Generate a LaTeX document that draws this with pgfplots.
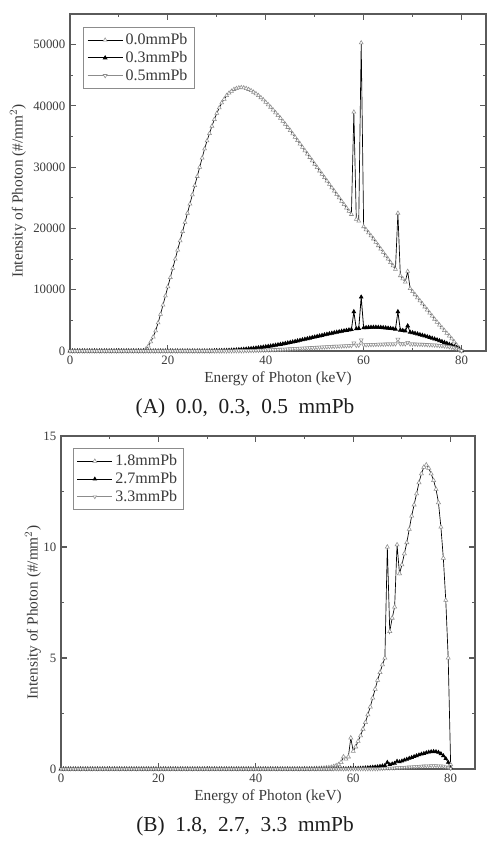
\documentclass[border=0pt]{standalone}
\usepackage{pgfplots}
\pgfplotsset{compat=1.18}
\usepackage{pgfplotstable}
\usepackage{fontspec}
\setmainfont{Liberation Serif}
\definecolor{framec}{HTML}{5A5A5A}
\definecolor{tickc}{HTML}{3A3A3A}
\definecolor{mk}{HTML}{8C8C8C}
\definecolor{capc}{HTML}{1E1E1E}

\pgfplotstableread{
E a00 a03 a05
0 0 0 0
0.5 0 0 0
1 0 0 0
1.5 0 0 0
2 0 0 0
2.5 0 0 0
3 0 0 0
3.5 0 0 0
4 0 0 0
4.5 0 0 0
5 0 0 0
5.5 0 0 0
6 0 0 0
6.5 0 0 0
7 0 0 0
7.5 0 0 0
8 0 0 0
8.5 0 0 0
9 0 0 0
9.5 0 0 0
10 0 0 0
10.5 0 0 0
11 0 0 0
11.5 0 0 0
12 0 0 0
12.5 0 0 0
13 0 0 0
13.5 0 0 0
14 0 0 0
14.5 0 0 0
15 50 0 0
15.5 300 0 0
16 800 0 0
16.5 1500 0 0
17 2300 0 0
17.5 3300 0 0
18 4600 0 0
18.5 6000 0 0
19 7500 0 0
19.5 9000 0 0
20 10500 0 0
20.5 12000 0 0
21 13500 0 0
21.5 15000 0 0
22 16500 0 0
22.5 18000 0 0
23 19500 0 0
23.5 21000 0 0
24 22500 0 0
24.5 24000 0 0
25 25500 0 0
25.5 27000 0 0
26 28500 0 0
26.5 30000 0 0
27 31500 0 0
27.5 33000 0 0
28 34300 10 0
28.5 35500 15 0
29 36700 20 0
29.5 37800 30 0
30 38800 40 0
30.5 39700 50 0
31 40500 60 0
31.5 41100 75 0
32 41700 90 0
32.5 42100 110 5
33 42400 130 10
33.5 42700 155 15
34 42850 180 20
34.5 42950 210 25
35 43000 240 30
35.5 42950 275 40
36 42850 310 50
36.5 42700 350 60
37 42500 390 70
37.5 42250 435 80
38 42000 480 90
38.5 41700 530 105
39 41350 580 120
39.5 41000 635 135
40 40600 690 150
40.5 40200 750 165
41 39800 810 185
41.5 39350 875 200
42 38900 940 220
42.5 38450 1010 240
43 38000 1080 260
43.5 37500 1155 280
44 37000 1230 300
44.5 36500 1310 320
45 36000 1390 345
45.5 35450 1475 370
46 34900 1560 390
46.5 34350 1650 415
47 33800 1740 435
47.5 33250 1830 460
48 32700 1920 480
48.5 32150 2010 500
49 31600 2100 525
49.5 31050 2190 550
50 30500 2280 570
50.5 29950 2370 590
51 29400 2460 615
51.5 28850 2550 640
52 28300 2640 660
52.5 27750 2725 680
53 27200 2810 705
53.5 26650 2895 730
54 26100 2980 750
54.5 25550 3060 770
55 25000 3140 790
55.5 24450 3215 810
56 23900 3290 830
56.5 23350 3360 850
57 22800 3430 870
57.5 22300 3500 890
58 39000 6400 1300
58.5 21500 3620 930
59 21200 3680 950
59.5 50300 8800 1800
60 20300 3780 990
60.5 19800 3810 1010
61 19300 3840 1030
61.5 18800 3860 1045
62 18300 3870 1060
62.5 17750 3870 1075
63 17200 3860 1090
63.5 16650 3840 1100
64 16100 3810 1110
64.5 15550 3770 1120
65 15000 3730 1130
65.5 14450 3680 1135
66 13900 3620 1140
66.5 13350 3570 1150
67 22500 6400 1900
67.5 12300 3400 1160
68 11800 3340 1160
68.5 11250 3270 1155
69 13000 4100 1400
69.5 10200 3060 1140
70 9700 2980 1130
70.5 9200 2880 1120
71 8700 2780 1105
71.5 8200 2670 1095
72 7700 2560 1080
72.5 7200 2450 1060
73 6700 2330 1040
73.5 6200 2210 1015
74 5700 2080 990
74.5 5200 1950 960
75 4700 1820 925
75.5 4250 1680 890
76 3800 1540 850
76.5 3350 1390 800
77 2900 1240 750
77.5 2450 1080 690
78 2000 920 620
78.5 1500 740 530
79 1000 560 420
79.5 500 330 250
80 0 50 30
}\dataA

\pgfplotstableread{
E b18 b27 b33
0 0 0 0
0.5 0 0 0
1 0 0 0
1.5 0 0 0
2 0 0 0
2.5 0 0 0
3 0 0 0
3.5 0 0 0
4 0 0 0
4.5 0 0 0
5 0 0 0
5.5 0 0 0
6 0 0 0
6.5 0 0 0
7 0 0 0
7.5 0 0 0
8 0 0 0
8.5 0 0 0
9 0 0 0
9.5 0 0 0
10 0 0 0
10.5 0 0 0
11 0 0 0
11.5 0 0 0
12 0 0 0
12.5 0 0 0
13 0 0 0
13.5 0 0 0
14 0 0 0
14.5 0 0 0
15 0 0 0
15.5 0 0 0
16 0 0 0
16.5 0 0 0
17 0 0 0
17.5 0 0 0
18 0 0 0
18.5 0 0 0
19 0 0 0
19.5 0 0 0
20 0 0 0
20.5 0 0 0
21 0 0 0
21.5 0 0 0
22 0 0 0
22.5 0 0 0
23 0 0 0
23.5 0 0 0
24 0 0 0
24.5 0 0 0
25 0 0 0
25.5 0 0 0
26 0 0 0
26.5 0 0 0
27 0 0 0
27.5 0 0 0
28 0 0 0
28.5 0 0 0
29 0 0 0
29.5 0 0 0
30 0 0 0
30.5 0 0 0
31 0 0 0
31.5 0 0 0
32 0 0 0
32.5 0 0 0
33 0 0 0
33.5 0 0 0
34 0 0 0
34.5 0 0 0
35 0 0 0
35.5 0 0 0
36 0 0 0
36.5 0 0 0
37 0 0 0
37.5 0 0 0
38 0 0 0
38.5 0 0 0
39 0 0 0
39.5 0 0 0
40 0 0 0
40.5 0 0 0
41 0 0 0
41.5 0 0 0
42 0 0 0
42.5 0 0 0
43 0 0 0
43.5 0 0 0
44 0 0 0
44.5 0 0 0
45 0 0 0
45.5 0 0 0
46 0 0 0
46.5 0 0 0
47 0 0 0
47.5 0 0 0
48 0 0 0
48.5 0 0 0
49 0 0 0
49.5 0 0 0
50 0.005 0 0
50.5 0.007 0 0
51 0.01 0 0
51.5 0.012 0 0
52 0.015 0 0
52.5 0.02 0 0
53 0.025 0 0
53.5 0.03 0 0
54 0.04 0 0
54.5 0.05 0 0
55 0.06 0 0
55.5 0.08 0.003 0
56 0.11 0.005 0
56.5 0.15 0.006 0
57 0.2 0.008 0
57.5 0.3 0.01 0
58 0.55 0.015 0
58.5 0.45 0.012 0
59 0.55 0.015 0
59.5 1.4 0.03 0
60 0.8 0.02 0
60.5 1.0 0.025 0
61 1.25 0.03 0
61.5 1.5 0.035 0
62 1.8 0.04 0
62.5 2.1 0.05 0
63 2.45 0.06 0
63.5 2.8 0.07 0
64 3.2 0.08 0
64.5 3.6 0.09 0
65 4.0 0.1 0
65.5 4.35 0.12 0.01
66 4.7 0.14 0.02
66.5 5.0 0.16 0.025
67 10.0 0.3 0.04
67.5 6.2 0.2 0.035
68 6.8 0.23 0.04
68.5 7.3 0.26 0.045
69 10.1 0.35 0.06
69.5 8.8 0.32 0.06
70 9.2 0.36 0.07
70.5 9.7 0.4 0.075
71 10.2 0.44 0.085
71.5 10.8 0.48 0.09
72 11.4 0.52 0.1
72.5 11.9 0.56 0.105
73 12.4 0.6 0.115
73.5 12.9 0.635 0.12
74 13.3 0.67 0.13
74.5 13.6 0.7 0.135
75 13.7 0.73 0.14
75.5 13.55 0.76 0.145
76 13.3 0.78 0.15
76.5 13.0 0.79 0.15
77 12.6 0.78 0.15
77.5 12.0 0.75 0.145
78 10.9 0.69 0.14
78.5 9.5 0.6 0.125
79 7.6 0.47 0.1
79.5 5.0 0.3 0.07
80 0.2 0.05 0.02
}\dataB

\pgfplotsset{
  panel/.style={
    scale only axis,
    xmin=0, xmax=85,
    xtick={0,20,40,60,80},
    minor x tick num=1,
    tick align=inside,
    axis line style={framec, line width=1.1pt},
    every tick/.style={framec, line width=0.8pt},
    major tick length=4.5pt,
    minor tick length=2.5pt,
    /pgf/number format/assume math mode=true,
    /pgf/number format/1000 sep={},
    scaled ticks=false,
    ticklabel style={font=\fontsize{9.6}{11}\selectfont, text=tickc},
    label style={font=\fontsize{11.5}{13}\selectfont, text=tickc},
    xlabel={Energy of Photon (keV)},
    ylabel={Intensity of Photon (\#/mm$^2$)},
    xlabel style={at={(axis description cs:0.5,0)}, anchor=center, yshift=-21pt},
    legend cell align=left,
    legend style={draw=mk, line width=0.6pt, font=\fontsize{12}{14}\selectfont, text=tickc,
      inner xsep=3pt, inner ysep=2.5pt, row sep=-0.5pt},
    legend image code/.code={
      \draw[mark repeat=2,mark phase=2] plot coordinates {(0cm,0cm) (0.46cm,0cm) (0.92cm,0cm)};},
  },
  s1/.style={black, line width=0.5pt, mark=triangle*, mark options={fill=white, draw=mk, line width=0.4pt}},
  s2/.style={black, line width=0.6pt, mark=triangle*, mark options={fill=black, draw=black}},
  s3/.style={mk, line width=0.5pt, mark=triangle*, mark options={rotate=180, fill=white, draw=mk, line width=0.4pt}},
}

\begin{document}
\begin{tikzpicture}
\path[use as bounding box] (0,0) rectangle (377.25pt,631.5pt);

\begin{axis}[panel,
  at={(52.5pt,368.25pt)}, anchor=south west,
  width=312pt, height=252.75pt,
  ymin=0, ymax=55000,
  ytick={0,10000,20000,30000,40000,50000},
  minor y tick num=1,
  ylabel style={at={(axis description cs:0,0.475)}, anchor=center, yshift=39pt},
  legend style={at={(0.031,0.961)}, anchor=north west},
  mark size=1.7pt,
]
\addplot[s1] table[x=E, y=a00] {\dataA};
\addlegendentry{0.0mmPb}
\addplot[s2, mark size=1.5pt] table[x=E, y=a03] {\dataA};
\addlegendentry{0.3mmPb}
\addplot[s3] table[x=E, y=a05] {\dataA};
\addlegendentry{0.5mmPb}
\end{axis}

\node[font=\fontsize{16}{18}\selectfont, text=capc] at (183.75pt,325.5pt) {(A)\ \ 0.0,\ \ 0.3,\ \ 0.5\ \ mmPb};

\begin{axis}[panel,
  at={(45.75pt,54.75pt)}, anchor=south west,
  width=310.5pt, height=249.75pt,
  ymin=0, ymax=15,
  ytick={0,5,10,15},
  minor y tick num=1,
  ylabel style={at={(axis description cs:0,0.47)}, anchor=center, yshift=21pt},
  legend style={at={(0.028,0.963)}, anchor=north west},
  mark size=1.8pt,
]
\addplot[s1] table[x=E, y=b18] {\dataB};
\addlegendentry{1.8mmPb}
\addplot[s2, mark size=1.4pt] table[x=E, y=b27] {\dataB};
\addlegendentry{2.7mmPb}
\addplot[s3, mark size=1.5pt] table[x=E, y=b33] {\dataB};
\addlegendentry{3.3mmPb}
\end{axis}

\node[font=\fontsize{16}{18}\selectfont, text=capc] at (183.75pt,12pt) {(B)\ \ 1.8,\ \ 2.7,\ \ 3.3\ \ mmPb};
\end{tikzpicture}
\end{document}
